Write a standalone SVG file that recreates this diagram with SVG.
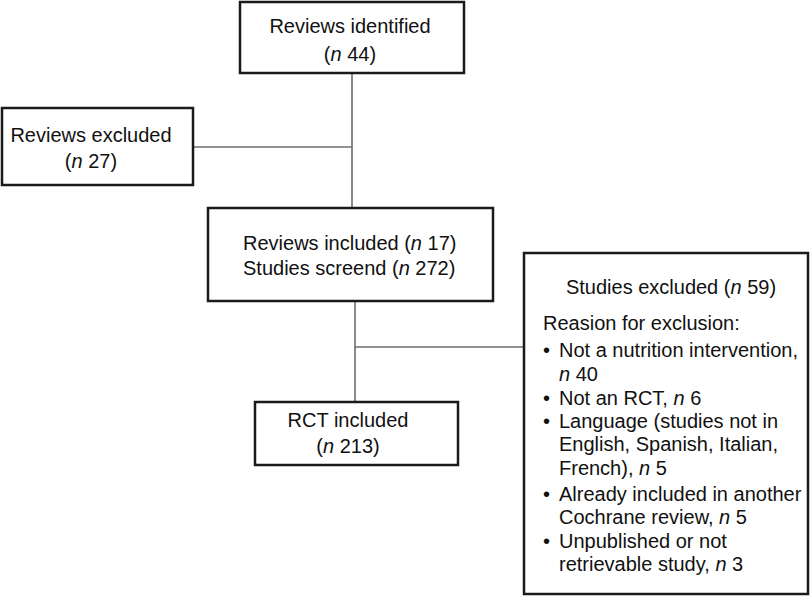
<svg xmlns="http://www.w3.org/2000/svg" width="810" height="596" viewBox="0 0 810 596">
<style>
.box{fill:#fff;stroke:#1a1a1a;stroke-width:2.5}
.ln{fill:none;stroke:#6e6e6e;stroke-width:1.6}
text{font-family:"Liberation Sans",Arial,Helvetica,sans-serif;font-size:20px;fill:#111}
.c{text-anchor:middle}
.i{font-style:italic}
</style>
<rect width="810" height="596" fill="#fff"/>
<g id="connectors">
<line class="ln" x1="352" y1="73" x2="352" y2="208"/>
<line class="ln" x1="193" y1="147" x2="352" y2="147"/>
<line class="ln" x1="355" y1="301" x2="355" y2="402"/>
<line class="ln" x1="355" y1="347" x2="524" y2="347"/>
</g>
<g id="reviews-identified">
<rect class="box" x="240" y="2" width="224" height="71"/>
<text class="c" x="350" y="33">Reviews identified</text>
<text class="c" x="350" y="61">(<tspan class="i">n</tspan> 44)</text>
</g>
<g id="reviews-excluded">
<rect class="box" x="2" y="108" width="191" height="77"/>
<text class="c" x="91" y="142">Reviews excluded</text>
<text class="c" x="91" y="168">(<tspan class="i">n</tspan> 27)</text>
</g>
<g id="reviews-included">
<rect class="box" x="208" y="208" width="285" height="93"/>
<text x="243" y="250">Reviews included (<tspan class="i">n</tspan> 17)</text>
<text x="243" y="275">Studies screend (<tspan class="i">n</tspan> 272)</text>
</g>
<g id="rct-included">
<rect class="box" x="255" y="402" width="203" height="63"/>
<text class="c" x="348" y="427">RCT included</text>
<text class="c" x="348" y="453">(<tspan class="i">n</tspan> 213)</text>
</g>
<g id="studies-excluded">
<rect class="box" x="524" y="253" width="284" height="341"/>
<text class="c" x="671" y="294">Studies excluded (<tspan class="i">n</tspan> 59)</text>
<text x="543" y="330">Reasion for exclusion:</text>
<text x="543" y="357">•</text><text x="559" y="357">Not a nutrition intervention,</text>
<text x="559" y="381"><tspan class="i">n</tspan> 40</text>
<text x="543" y="405">•</text><text x="559" y="405">Not an RCT, <tspan class="i">n</tspan> 6</text>
<text x="543" y="428">•</text><text x="559" y="428">Language (studies not in</text>
<text x="559" y="451">English, Spanish, Italian,</text>
<text x="559" y="475">French), <tspan class="i">n</tspan> 5</text>
<text x="543" y="501">•</text><text x="559" y="501">Already included in another</text>
<text x="559" y="524">Cochrane review, <tspan class="i">n</tspan> 5</text>
<text x="543" y="548">•</text><text x="559" y="548">Unpublished or not</text>
<text x="559" y="571">retrievable study, <tspan class="i">n</tspan> 3</text>
</g>
</svg>
